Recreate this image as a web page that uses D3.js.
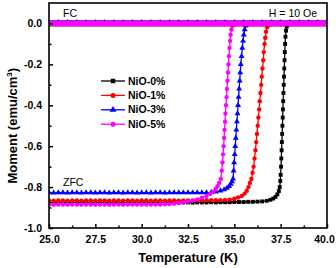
<!DOCTYPE html>
<html>
<head>
<meta charset="utf-8">
<script src="https://cdn.jsdelivr.net/npm/d3@7"></script>
<style>
  body { margin: 0; background: #fff; }
  svg { display: block; font-family: "Liberation Sans", Arial, sans-serif; }
</style>
</head>
<body>
<div id="chart"></div>
<script>
// ZFC branches, [temperature K, moment emu/cm3]
const zfc0 = [
  [25.0,-0.875],[25.25,-0.876],[25.5,-0.875],[25.75,-0.875],[26.0,-0.876],[26.25,-0.875],[26.5,-0.875],[26.75,-0.876],
  [27.0,-0.875],[27.25,-0.875],[27.5,-0.876],[27.75,-0.875],[28.0,-0.875],[28.25,-0.876],[28.5,-0.875],[28.75,-0.875],
  [29.0,-0.876],[29.25,-0.875],[29.5,-0.875],[29.75,-0.876],[30.0,-0.875],[30.25,-0.875],[30.5,-0.876],[30.75,-0.875],
  [31.0,-0.875],[31.25,-0.876],[31.5,-0.875],[31.75,-0.875],[32.0,-0.876],[32.25,-0.875],[32.5,-0.875],[32.75,-0.876],
  [33.0,-0.875],[33.25,-0.875],[33.5,-0.875],[33.75,-0.874],[34.0,-0.875],[34.25,-0.874],[34.5,-0.874],[34.75,-0.874],
  [35.0,-0.873],[35.25,-0.873],[35.5,-0.873],[35.75,-0.872],[36.0,-0.872],[36.25,-0.871],[36.5,-0.870],[36.75,-0.867],
  [36.95,-0.862],[37.1,-0.856],[37.22,-0.848],[37.32,-0.836],[37.4,-0.82],[37.45,-0.80],[37.48,-0.77],[37.5,-0.74],
  [37.52,-0.70],[37.535,-0.66],[37.55,-0.62],[37.565,-0.58],[37.58,-0.54],[37.595,-0.50],[37.61,-0.46],[37.62,-0.42],
  [37.635,-0.38],[37.65,-0.34],[37.665,-0.30],[37.68,-0.26],[37.695,-0.22],[37.71,-0.18],[37.725,-0.14],[37.74,-0.10],
  [37.76,-0.065],[37.79,-0.035],[37.83,-0.015],[37.9,-0.004],[38.0,0.0],[38.5,0.001],[39.0,0.001],[39.5,0.001],[40.0,0.001]
];
const zfc1 = [
  [25.0,-0.865],[25.25,-0.866],[25.5,-0.865],[25.75,-0.865],[26.0,-0.866],[26.25,-0.865],[26.5,-0.865],[26.75,-0.866],
  [27.0,-0.865],[27.25,-0.865],[27.5,-0.866],[27.75,-0.865],[28.0,-0.865],[28.25,-0.866],[28.5,-0.865],[28.75,-0.865],
  [29.0,-0.866],[29.25,-0.865],[29.5,-0.865],[29.75,-0.866],[30.0,-0.865],[30.25,-0.865],[30.5,-0.866],[30.75,-0.865],
  [31.0,-0.865],[31.25,-0.866],[31.5,-0.865],[31.75,-0.865],[32.0,-0.866],[32.25,-0.865],[32.5,-0.865],[32.75,-0.865],
  [33.0,-0.865],[33.25,-0.865],[33.5,-0.864],[33.75,-0.864],[34.0,-0.864],[34.25,-0.864],[34.5,-0.863],[34.75,-0.861],
  [35.0,-0.857],[35.2,-0.851],[35.4,-0.843],[35.55,-0.832],[35.67,-0.818],[35.76,-0.80],[35.84,-0.78],[35.92,-0.76],
  [35.98,-0.73],[36.04,-0.70],[36.09,-0.66],[36.14,-0.62],[36.18,-0.58],[36.22,-0.54],[36.26,-0.50],[36.3,-0.46],
  [36.34,-0.42],[36.37,-0.38],[36.41,-0.34],[36.45,-0.30],[36.48,-0.26],[36.52,-0.22],[36.56,-0.18],[36.59,-0.14],
  [36.63,-0.10],[36.67,-0.07],[36.71,-0.04],[36.77,-0.018],[36.85,-0.006],[36.95,0.0],[37.5,0.001],[38.5,0.001],[40.0,0.001]
];
const zfc3 = [
  [25.0,-0.827],[25.25,-0.828],[25.5,-0.827],[25.75,-0.827],[26.0,-0.828],[26.25,-0.827],[26.5,-0.827],[26.75,-0.828],
  [27.0,-0.827],[27.25,-0.827],[27.5,-0.828],[27.75,-0.827],[28.0,-0.827],[28.25,-0.828],[28.5,-0.827],[28.75,-0.827],
  [29.0,-0.828],[29.25,-0.827],[29.5,-0.827],[29.75,-0.828],[30.0,-0.827],[30.25,-0.827],[30.5,-0.828],[30.75,-0.827],
  [31.0,-0.827],[31.25,-0.828],[31.5,-0.827],[31.75,-0.827],[32.0,-0.827],[32.25,-0.827],[32.5,-0.827],[32.75,-0.827],
  [33.0,-0.827],[33.25,-0.827],[33.5,-0.827],[33.75,-0.826],[34.0,-0.823],[34.25,-0.818],[34.45,-0.812],[34.6,-0.805],
  [34.72,-0.796],[34.81,-0.785],[34.88,-0.773],[34.93,-0.76],[34.96,-0.72],[34.99,-0.68],[35.02,-0.64],[35.05,-0.60],
  [35.08,-0.56],[35.11,-0.52],[35.14,-0.48],[35.17,-0.44],[35.2,-0.40],[35.23,-0.36],[35.26,-0.32],[35.29,-0.28],
  [35.32,-0.24],[35.35,-0.20],[35.39,-0.16],[35.43,-0.12],[35.47,-0.085],[35.51,-0.055],[35.56,-0.03],[35.62,-0.012],
  [35.7,-0.003],[35.8,0.0],[36.5,0.001],[37.5,0.001],[38.5,0.001],[40.0,0.001]
];
const zfc5 = [
  [25.0,-0.885],[25.25,-0.886],[25.5,-0.885],[25.75,-0.885],[26.0,-0.886],[26.25,-0.885],[26.5,-0.885],[26.75,-0.886],
  [27.0,-0.885],[27.25,-0.885],[27.5,-0.886],[27.75,-0.885],[28.0,-0.885],[28.25,-0.886],[28.5,-0.885],[28.75,-0.885],
  [29.0,-0.886],[29.25,-0.885],[29.5,-0.885],[29.75,-0.885],[30.0,-0.885],[30.25,-0.885],[30.5,-0.885],[30.75,-0.885],
  [31.0,-0.885],[31.25,-0.884],[31.5,-0.883],[31.75,-0.881],[32.0,-0.878],[32.25,-0.875],[32.5,-0.871],[32.75,-0.866],
  [33.0,-0.86],[33.25,-0.852],[33.5,-0.843],[33.7,-0.833],[33.85,-0.822],[34.0,-0.808],[34.1,-0.795],[34.18,-0.78],
  [34.27,-0.76],[34.32,-0.72],[34.36,-0.68],[34.39,-0.64],[34.42,-0.60],[34.45,-0.56],[34.47,-0.52],[34.5,-0.48],
  [34.52,-0.44],[34.55,-0.40],[34.58,-0.36],[34.6,-0.32],[34.63,-0.28],[34.66,-0.24],[34.68,-0.20],[34.71,-0.16],
  [34.74,-0.12],[34.77,-0.085],[34.8,-0.055],[34.84,-0.03],[34.89,-0.012],[34.96,-0.003],[35.05,0.0],[36.0,0.001],
  [37.0,0.001],[38.0,0.001],[39.0,0.001],[40.0,0.001]
];

// FC branches, shared temperature grid
const fcTemps = [25,25.5,26,26.5,27,27.5,28,28.5,29,29.5,30,30.5,31,31.5,32,32.5,33,33.5,34,34.5,35,35.5,36,36.5,37,37.5,38,38.5,39,39.5,40];
const fc0 = [0,0,0,0,0,0,0,0,0,0,0,0,0,0,0,0,0,0,0,0,0,0,0,0,0,0,0,0,0,0,0];
const fc1 = [0,0,0,0,0,0,0,0,0,0,0,0,0,0,0,0,0,0,0,0,0,0,0,0,0,0,0,0,0,0,0];
const fc3 = [0.001,0.001,0.001,0.001,0.001,0.001,0.001,0.001,0.001,0.001,0.001,0.001,0.001,0.001,0.001,0.001,0.001,0.001,0.001,0.001,0.001,0.001,0.001,0.001,0.001,0.001,0.001,0.001,0.001,0.001,0.001];
const fc5 = [0,0,0,0,0,0,0,0,0,0,0,0,0,0,0,0,0,0,0,0,0,0,0,0,0,0,0,0,0,0,0];

const seriesNames = ["NiO-0%", "NiO-1%", "NiO-3%", "NiO-5%"];
const xTicks = [25.0, 27.5, 30.0, 32.5, 35.0, 37.5, 40.0];
const yTicks = [0.0, -0.2, -0.4, -0.6, -0.8, -1.0];

const width = 336, height = 268;
const margin = { top: 3, right: 9, bottom: 40, left: 49 };
const W = width - margin.left - margin.right;
const H = height - margin.top - margin.bottom;

const x = d3.scaleLinear().domain([25, 40]).range([0, W]);
const y = d3.scaleLinear().domain([-1.0, 0.1]).range([H, 0]);

const series = [
  { name: seriesNames[0], color: "#000000", sym: d3.symbolSquare, size: 15, zfc: zfc0, fc: fc0 },
  { name: seriesNames[1], color: "#ff0000", sym: d3.symbolCircle, size: 15, zfc: zfc1, fc: fc1 },
  { name: seriesNames[2], color: "#0000ff", sym: d3.symbolTriangle, size: 15, zfc: zfc3, fc: fc3 },
  { name: seriesNames[3], color: "#ff00ff", sym: d3.symbolCircle, size: 15, zfc: zfc5, fc: fc5 }
];

const svg = d3.select("#chart").append("svg")
  .attr("width", width).attr("height", height);
const g = svg.append("g").attr("transform", `translate(${margin.left},${margin.top})`);

const clip = svg.append("clipPath").attr("id", "clip");
clip.append("rect").attr("width", W).attr("height", H);
const plot = g.append("g").attr("clip-path", "url(#clip)");

const line = d3.line().x(d => x(d[0])).y(d => y(d[1]));

// ZFC curves
series.forEach(s => {
  plot.append("path").datum(s.zfc)
    .attr("fill", "none").attr("stroke", s.color).attr("stroke-width", 1.3)
    .attr("d", line);
  plot.selectAll(null).data(s.zfc).join("path")
    .attr("transform", d => `translate(${x(d[0])},${y(d[1])})`)
    .attr("d", d3.symbol(s.sym, s.size))
    .attr("fill", s.color);
});

// FC curves (drawn on top, magenta last)
series.forEach(s => {
  const pts = fcTemps.map((t, i) => [t, s.fc[i]]);
  plot.append("path").datum(pts)
    .attr("fill", "none").attr("stroke", s.color).attr("stroke-width", 5.5)
    .attr("d", line);
  plot.selectAll(null).data(pts).join("path")
    .attr("transform", d => `translate(${x(d[0])},${y(d[1])})`)
    .attr("d", d3.symbol(s.sym, s.size + 8))
    .attr("fill", s.color);
});

// axes
const xAxis = g.append("g").attr("transform", `translate(0,${H})`)
  .call(d3.axisBottom(x).tickValues(xTicks).tickSizeInner(-4).tickSizeOuter(0)
    .tickPadding(8).tickFormat(d3.format(".1f")));
const xMinor = g.append("g").attr("transform", `translate(0,${H})`)
  .call(d3.axisBottom(x).tickValues(d3.range(26.25, 40, 2.5)).tickSizeInner(-2.5).tickSizeOuter(0).tickFormat(""));
const yAxis = g.append("g")
  .call(d3.axisLeft(y).tickValues(yTicks).tickSizeInner(-4).tickSizeOuter(0)
    .tickPadding(7).tickFormat(d3.format(".1f")));
const yMinor = g.append("g")
  .call(d3.axisLeft(y).tickValues([-0.1, -0.3, -0.5, -0.7, -0.9]).tickSizeInner(-2.5).tickSizeOuter(0).tickFormat(""));

[xAxis, xMinor, yAxis, yMinor].forEach(a => {
  a.select(".domain").remove();
  a.selectAll("line").attr("stroke", "#000").attr("stroke-width", 1.5);
  a.selectAll("text").attr("fill", "#000").attr("font-size", "10.5px").attr("font-weight", "bold")
    .attr("font-family", "Liberation Sans, Arial, sans-serif");
});
yAxis.selectAll("text").text(d => d3.format(".1f")(d).replace("−", "-"));
xAxis.selectAll("text").attr("dy", "0.71em");
// keep the last label inside the window
xAxis.selectAll("text").filter(d => d === 40).attr("dx", -3);

// frame
g.append("rect").attr("width", W).attr("height", H)
  .attr("fill", "none").attr("stroke", "#000").attr("stroke-width", 1.6);

// axis titles
svg.append("text").attr("x", margin.left + W / 2).attr("y", 262)
  .attr("text-anchor", "middle").attr("font-size", "13px").attr("font-weight", "bold")
  .text("Temperature (K)");
const yt = svg.append("text")
  .attr("transform", `translate(17,${margin.top + y(-0.5)}) rotate(-90)`)
  .attr("text-anchor", "middle").attr("font-size", "13px").attr("font-weight", "bold");
yt.append("tspan").text("Moment (emu/cm");
yt.append("tspan").attr("dy", -5).attr("font-size", "8px").text("3");
yt.append("tspan").attr("dy", 5).text(")");

// annotations
g.append("text").attr("x", 14).attr("y", 14).attr("font-size", "10.5px").text("FC");
g.append("text").attr("x", W - 10).attr("y", 14).attr("text-anchor", "end").attr("font-size", "10.5px").text("H = 10 Oe");
g.append("text").attr("x", 14).attr("y", y(-0.8) - 1).attr("font-size", "10.5px").text("ZFC");

// legend
const legend = g.append("g").attr("transform", `translate(${52},${78})`);
series.forEach((s, i) => {
  const row = legend.append("g").attr("transform", `translate(0,${i * 14.4})`);
  row.append("line").attr("x1", 0).attr("x2", 24).attr("stroke", s.color).attr("stroke-width", 1.3);
  row.append("path").attr("transform", "translate(12,0)")
    .attr("d", d3.symbol(s.sym, 20)).attr("fill", s.color);
  row.append("text").attr("x", 27).attr("dy", "0.35em")
    .attr("font-size", "10.5px").attr("font-weight", "bold").text(s.name);
});
</script>
</body>
</html>
